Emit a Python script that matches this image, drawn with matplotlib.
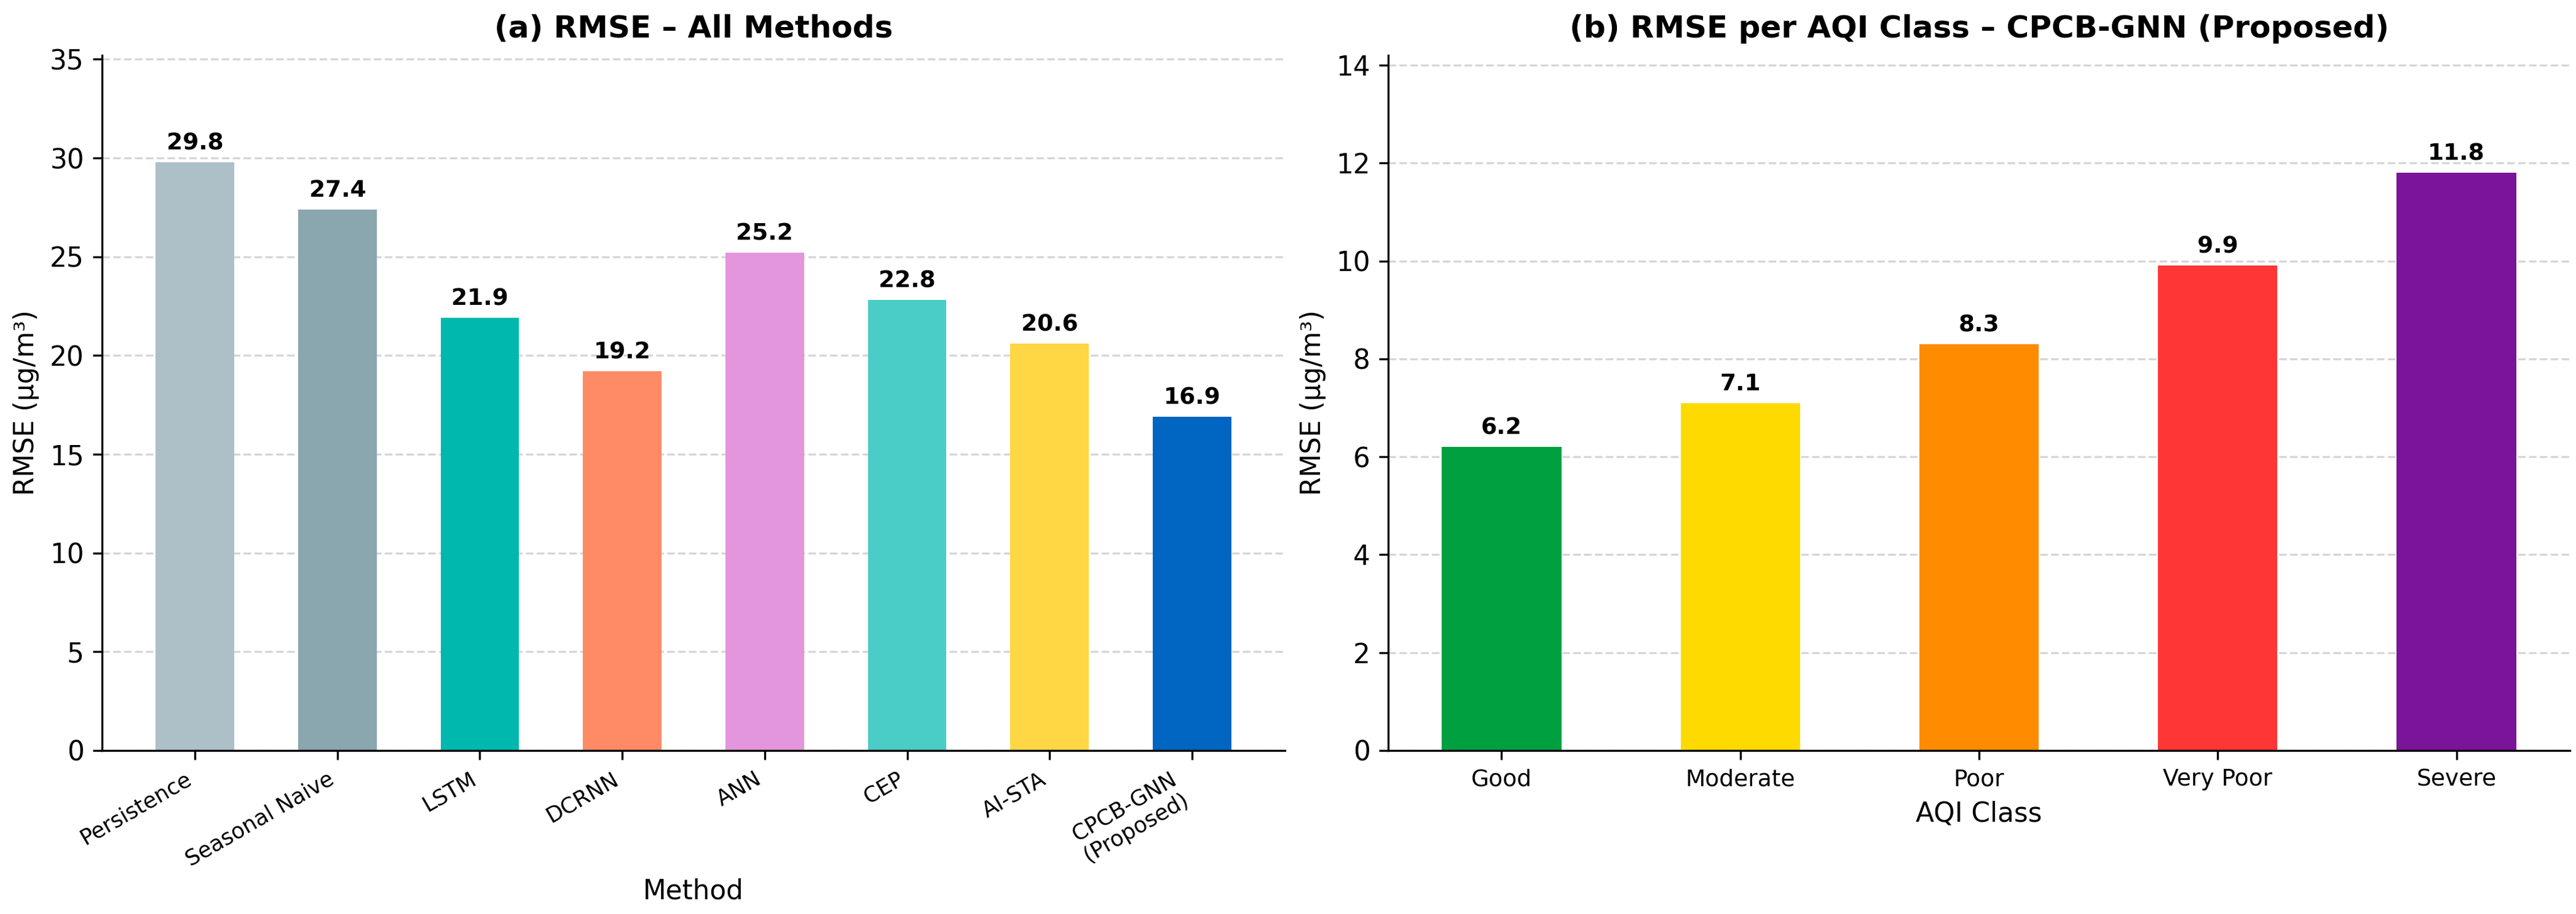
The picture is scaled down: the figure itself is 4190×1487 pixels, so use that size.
import matplotlib
matplotlib.use("Agg")
import matplotlib.pyplot as plt
import numpy as np

methods = ["Persistence", "Seasonal Naive", "LSTM", "DCRNN", "ANN", "CEP", "AI-STA", "CPCB-GNN\n(Proposed)"]
rmse_methods = [29.8, 27.4, 21.9, 19.2, 25.2, 22.8, 20.6, 16.9]
method_colors = ["#ADBFC7", "#8AA6AE", "#00B8AD", "#FF8A66", "#E396DC", "#4ACDC6", "#FFD643", "#0066C2"]

aqi_classes = ["Good", "Moderate", "Poor", "Very Poor", "Severe"]
rmse_aqi = [6.2, 7.1, 8.3, 9.9, 11.8]
aqi_colors = ["#00A040", "#FFDA00", "#FF8C00", "#FF3636", "#7A1499"]

plt.rcParams['font.family'] = ['DejaVu Sans']

fig = plt.figure(figsize=(4190/300, 1487/300), dpi=300)
ax1 = fig.add_axes([166/4190, 266/1487, (2090-166)/4190, 1131/1487])
ax2 = fig.add_axes([2258/4190, 266/1487, (4180-2258)/4190, 1131/1487])

def style(ax):
    ax.spines['top'].set_visible(False)
    ax.spines['right'].set_visible(False)
    ax.set_axisbelow(True)
    ax.grid(axis='y', linestyle='--', color='#cccccc', alpha=0.8, linewidth=0.8)
    ax.tick_params(axis='y', labelsize=10.5)

x1 = np.arange(len(methods))
b1 = ax1.bar(x1, rmse_methods, width=0.55, color=method_colors)
ax1.bar_label(b1, labels=[f"{v:.1f}" for v in rmse_methods], padding=3, fontsize=9, fontweight='bold')
ax1.set_xticks(x1)
ax1.set_xticklabels(methods, rotation=30, ha='right', fontsize=8.5)
ax1.set_ylim(0, 35.2)
ax1.set_ylabel("RMSE (µg/m³)", fontsize=10.5)
ax1.set_xlabel("Method", fontsize=10.5, labelpad=3)
ax1.set_title("(a) RMSE – All Methods", fontsize=12, fontweight='bold', pad=7)
style(ax1)

x2 = np.arange(len(aqi_classes))
b2 = ax2.bar(x2, rmse_aqi, width=0.5, color=aqi_colors)
ax2.bar_label(b2, labels=[f"{v:.1f}" for v in rmse_aqi], padding=3, fontsize=9, fontweight='bold')
ax2.set_xticks(x2)
ax2.set_xticklabels(aqi_classes, fontsize=9)
ax2.set_ylim(0, 14.2)
ax2.set_ylabel("RMSE (µg/m³)", fontsize=10.5)
ax2.set_xlabel("AQI Class", fontsize=10.5)
ax2.set_title("(b) RMSE per AQI Class – CPCB-GNN (Proposed)", fontsize=12, fontweight='bold', pad=7)
style(ax2)

fig.savefig("out.png", dpi=300)
